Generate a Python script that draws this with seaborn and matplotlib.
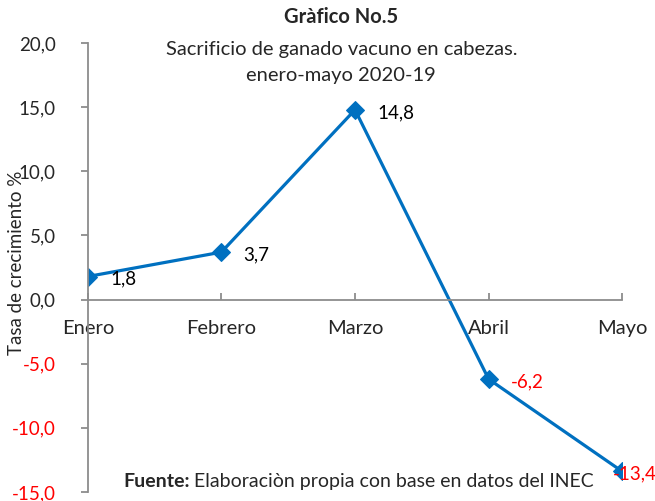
import matplotlib
matplotlib.use("Agg")
import matplotlib.pyplot as plt
import seaborn as sns
import pandas as pd
from matplotlib.ticker import FuncFormatter, MultipleLocator

# data
meses = ["Enero", "Febrero", "Marzo", "Abril", "Mayo"]
tasa = [1.8, 3.7, 14.8, -6.2, -13.4]

azul = "#0070C0"
gris = "#8C8C8C"

sns.set_style("white")
plt.rcParams['font.family'] = ['Lato', 'DejaVu Sans']

df = pd.DataFrame({"mes": meses, "tasa": tasa})

fig = plt.figure(figsize=(6.55, 5.01), dpi=100)
ax = fig.add_axes([0.134, 0.018, 0.816, 0.896])

sns.lineplot(data=df, x="mes", y="tasa", sort=False, color=azul, linewidth=2.3,
             marker="D", markersize=9, markeredgecolor=azul, ax=ax)

ax.set_ylim(-15, 20)
ax.set_xlim(0, len(meses) - 1)
ax.yaxis.set_major_locator(MultipleLocator(5))
ax.yaxis.set_major_formatter(FuncFormatter(lambda v, p: f"{v:.1f}".replace(".", ",")))

for s in ["top", "right"]:
    ax.spines[s].set_visible(False)
ax.spines["bottom"].set_position(("data", 0))
for s in ["left", "bottom"]:
    ax.spines[s].set_color(gris)
    ax.spines[s].set_linewidth(1.3)

ax.tick_params(axis="y", direction="out", length=5, width=1.3, color=gris,
               labelsize=13.5, pad=18, left=True)
ax.tick_params(axis="x", direction="in", length=5, width=1.3, color=gris,
               labelsize=14.5, pad=15, bottom=True)
for lbl, v in zip(ax.get_yticklabels(), ax.get_yticks()):
    if v < 0:
        lbl.set_color("red")

ax.set_xlabel("")
ax.set_ylabel("Tasa de crecimiento %", fontsize=13.5)
ax.yaxis.set_label_coords(-0.118, 0.51)

# etiquetas de datos (la de mayo va encima del marcador)
for i, v in enumerate(tasa):
    dx = -7 if i == len(tasa) - 1 else 16
    ax.annotate(f"{v:.1f}".replace(".", ","), (i, v), xytext=(dx, -2),
                textcoords="offset points", ha="left", va="center",
                fontsize=13.5, color="red" if v < 0 else "black")

fig.text(0.521, 0.966, "Gràfico No.5", ha="center", va="center",
         fontsize=14.5, fontweight="bold")
fig.text(0.521, 0.902, "Sacrificio de ganado vacuno en cabezas.",
         ha="center", va="center", fontsize=14.5)
fig.text(0.521, 0.850, "enero-mayo 2020-19", ha="center", va="center",
         fontsize=14.5)

t1 = fig.text(0.188, 0.038, "Fuente:", ha="left", va="center", fontsize=14,
              fontweight="bold")
fig.canvas.draw()
bb = t1.get_window_extent()
x_next = fig.transFigure.inverted().transform((bb.x1 + 4, 0))[0]
fig.text(x_next, 0.038, "Elaboraciòn propia con base en datos del INEC",
         ha="left", va="center", fontsize=14)

fig.savefig("out.png", dpi=100)
